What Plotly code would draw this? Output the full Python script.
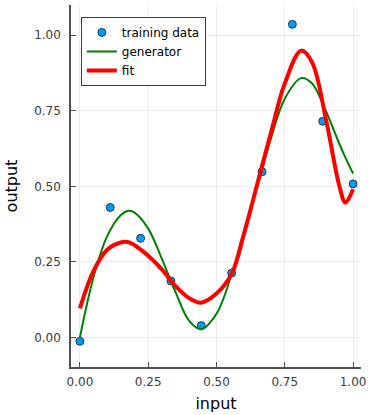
import plotly.graph_objects as go

# training data
x_data = [0.0, 0.1111, 0.2222, 0.3333, 0.4444, 0.5556, 0.6667, 0.7778, 0.8889, 1.0]
y_data = [-0.013, 0.430, 0.328, 0.187, 0.039, 0.213, 0.548, 1.036, 0.715, 0.508]

# curve sample positions
x_curve = [0.0, 0.05, 0.1, 0.15, 0.178, 0.2, 0.25, 0.3, 0.35, 0.4, 0.444, 0.5,
           0.556, 0.6, 0.65, 0.7, 0.75, 0.81, 0.85, 0.9, 0.95, 0.972, 1.0]
# generator (green)
y_gen = [0.0, 0.20, 0.335, 0.405, 0.419, 0.413, 0.36, 0.26, 0.15, 0.055, 0.027, 0.078,
         0.211, 0.35, 0.50, 0.66, 0.79, 0.858, 0.84, 0.75, 0.64, 0.595, 0.542]
# fit (red)
y_fit = [0.096, 0.22, 0.29, 0.314, 0.315, 0.305, 0.27, 0.225, 0.17, 0.13, 0.115, 0.145,
         0.211, 0.34, 0.51, 0.68, 0.84, 0.949, 0.91, 0.725, 0.50, 0.446, 0.49]

x_ticks = [0.0, 0.25, 0.5, 0.75, 1.0]
y_ticks = [0.0, 0.25, 0.5, 0.75, 1.0]
tick_text = ["0.00", "0.25", "0.50", "0.75", "1.00"]

fig = go.Figure()
fig.add_trace(go.Scatter(x=x_data, y=y_data, mode="markers", name="training data",
                         marker=dict(color="rgb(0,154,250)", size=8,
                                     line=dict(color="rgb(30,30,30)", width=0.8))))
fig.add_trace(go.Scatter(x=x_curve, y=y_gen, mode="lines", name="generator",
                         line=dict(color="green", width=2, shape="spline", smoothing=1)))
fig.add_trace(go.Scatter(x=x_curve, y=y_fit, mode="lines", name="fit",
                         line=dict(color="red", width=4, shape="spline", smoothing=1)))

font = "DejaVu Sans"
axis_common = dict(showgrid=True, gridcolor="rgba(0,0,0,0.07)", gridwidth=1,
                   zeroline=False, showline=True, linecolor="rgb(80,80,80)", linewidth=1.5,
                   ticks="inside", ticklen=5, tickcolor="rgb(80,80,80)",
                   tickfont=dict(family=font, size=12, color="rgb(60,60,60)"),
                   mirror=False)
fig.update_layout(
    width=371, height=415,
    margin=dict(l=71, r=7, t=5, b=44),
    paper_bgcolor="white", plot_bgcolor="white",
    font=dict(family=font, color="black"),
    xaxis=dict(range=[-0.0326, 1.029], tickvals=x_ticks, ticktext=tick_text,
               ticklabelstandoff=3,
               title=dict(text="input", font=dict(family=font, size=16), standoff=10),
               **axis_common),
    yaxis=dict(range=[-0.098, 1.10], tickvals=y_ticks, ticktext=tick_text,
               ticklabelstandoff=6,
               title=dict(text="output", font=dict(family=font, size=16), standoff=13),
               **axis_common),
    legend=dict(x=0.034, y=0.967, xanchor="left", yanchor="top",
                bgcolor="white", bordercolor="rgb(60,60,60)", borderwidth=1,
                font=dict(family=font, size=12), tracegroupgap=0, itemwidth=30),
    showlegend=True,
)
fig.write_html("out.html")
